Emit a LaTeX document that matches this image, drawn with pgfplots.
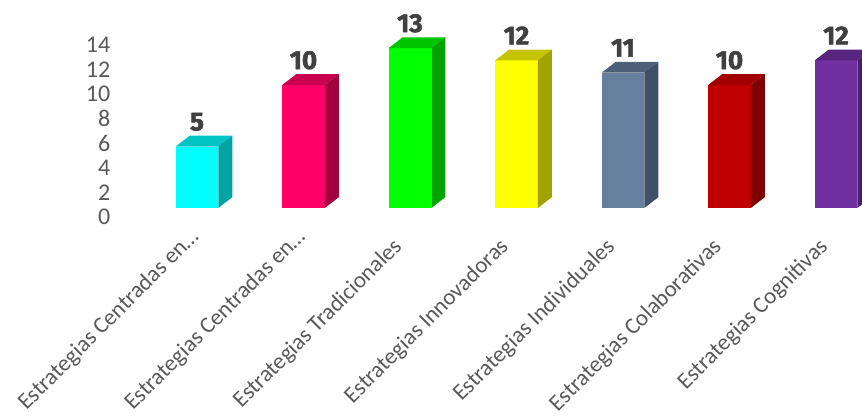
\documentclass[border=0pt]{standalone}
\usepackage{pgfplots}
\pgfplotsset{compat=1.18}
\usepackage{fontspec}
\setmainfont{Carlito}
\newfontfamily\labfont{Fira Sans}[BoldFeatures={FakeBold=2}]
\definecolor{tk}{HTML}{595959}
\definecolor{lb}{HTML}{404040}
\pgfdeclareplotmark{nothing}{}
\pgfplotsset{
  box/.style n args={3}{
    scatter, only marks, mark=nothing,
    visualization depends on={rawy \as \vv},
    scatter/@pre marker code/.code={%
      \pgfmathsetmacro\hh{\vv*12.3}%
      \path[draw=none, #1] (-21.3pt,0pt) rectangle (21.3pt,-\hh pt);
      \path[draw=none, #2] (-21.3pt,0pt) -- (21.3pt,0pt) -- (35.3pt,10.8pt) -- (-7.3pt,10.8pt) -- cycle;
      \path[draw=none, #3] (21.3pt,0pt) -- (35.3pt,10.8pt) -- (35.3pt,10.8pt-\hh pt) -- (21.3pt,-\hh pt) -- cycle;
      \node[anchor=base, text=lb, font=\labfont\bfseries\fontsize{26}{28}\selectfont] at (0pt,16pt) {\pgfmathprintnumber[fixed, precision=0]{\vv}};
    },
    scatter/@post marker code/.code={},
  }
}
\begin{document}
\begin{tikzpicture}
\path[use as bounding box] (0,0) rectangle (862pt,416pt);
\begin{axis}[
  at={(143.75pt,208pt)}, anchor=south west,
  scale only axis, width=713.55pt, height=172.2pt,
  xmin=-0.5, xmax=6.2, ymin=0, ymax=14,
  clip=false,
  axis line style={draw=none},
  major tick length=0pt,
  ytick={0,2,...,14},
  xtick={0,...,6},
  xticklabels={Estrategias Centradas en…\hspace*{-14pt}, Estrategias Centradas en…\hspace*{-14pt}, Estrategias Tradicionales, Estrategias Innovadoras, Estrategias Individuales, Estrategias Colaborativas, Estrategias Cognitivas},
  /pgf/number format/assume math mode=true,
  yticklabel style={font=\fontsize{24}{26}\selectfont, text=tk, yshift=-9pt, xshift=-30pt},
  xticklabel style={font=\fontsize{23}{25}\selectfont, text=tk, xshift=-9pt, yshift=-33pt, rotate=45, anchor=east},
]
\addplot[box={fill={rgb,255:red,0;green,255;blue,255}}{fill={rgb,255:red,0;green,196;blue,196}}{fill={rgb,255:red,0;green,163;blue,163}}] coordinates {(0,5)};
\addplot[box={fill={rgb,255:red,255;green,0;blue,102}}{fill={rgb,255:red,200;green,0;blue,79}}{fill={rgb,255:red,162;green,0;blue,63}}] coordinates {(1,10)};
\addplot[box={fill={rgb,255:red,0;green,255;blue,0}}{fill={rgb,255:red,0;green,196;blue,0}}{fill={rgb,255:red,0;green,163;blue,0}}] coordinates {(2,13)};
\addplot[box={fill={rgb,255:red,255;green,255;blue,0}}{fill={rgb,255:red,196;green,196;blue,0}}{fill={rgb,255:red,163;green,163;blue,0}}] coordinates {(3,12)};
\addplot[box={fill={rgb,255:red,102;green,127;blue,158}}{fill={rgb,255:red,78;green,96;blue,120}}{fill={rgb,255:red,62;green,79;blue,102}}] coordinates {(4,11)};
\addplot[box={fill={rgb,255:red,192;green,0;blue,0}}{fill={rgb,255:red,160;green,0;blue,0}}{fill={rgb,255:red,128;green,0;blue,0}}] coordinates {(5,10)};
\addplot[box={fill={rgb,255:red,112;green,48;blue,160}}{fill={rgb,255:red,87;green,37;blue,125}}{fill={rgb,255:red,72;green,32;blue,106}}] coordinates {(6,12)};
\end{axis}
\end{tikzpicture}
\end{document}
